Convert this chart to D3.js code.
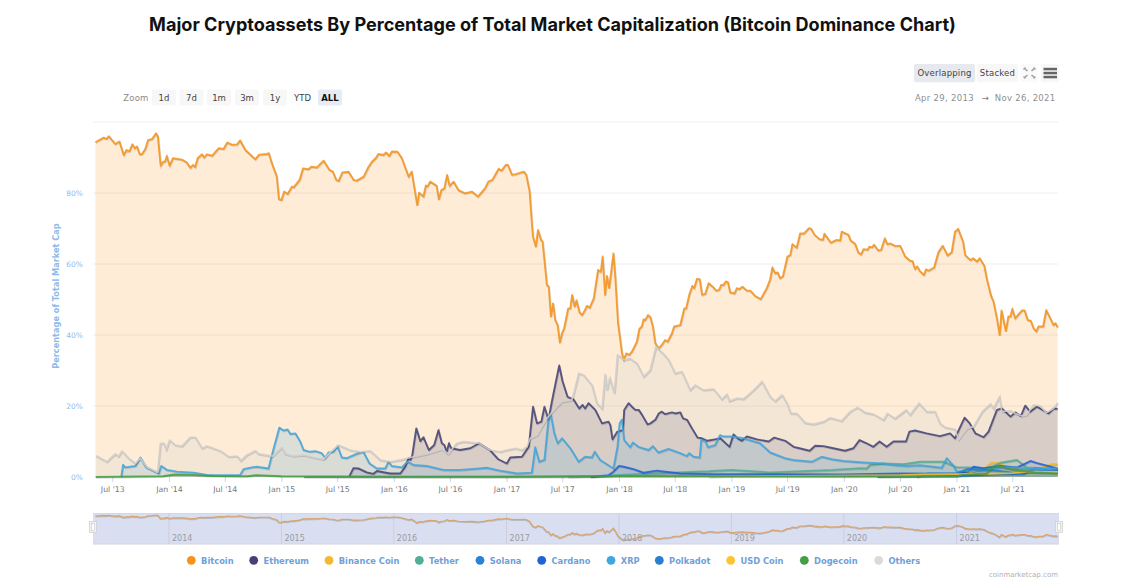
<!DOCTYPE html>
<html><head><meta charset="utf-8">
<script src="https://cdn.jsdelivr.net/npm/d3@7"></script>
<style>html,body{margin:0;padding:0;background:#fff;overflow:hidden}svg{display:block}text{font-family:"DejaVu Sans",sans-serif}</style>
</head><body><svg id="c" width="1124" height="586"></svg>
<script>
const bitcoin=[[2013.346,94.3],[2013.42,95.6],[2013.444,95.2],[2013.465,96],[2013.495,94.9],[2013.524,93.8],[2013.56,94.5],[2013.598,90.7],[2013.622,92.1],[2013.652,91.8],[2013.675,93.7],[2013.696,92.6],[2013.717,93.1],[2013.74,90.9],[2013.761,90.9],[2013.791,92.4],[2013.815,94.9],[2013.85,95.2],[2013.886,96.8],[2013.904,95.9],[2013.927,87.7],[2013.948,88.8],[2013.966,88.8],[2013.983,90.4],[2014.007,87.7],[2014.037,89.8],[2014.117,89.4],[2014.161,88.6],[2014.191,87.1],[2014.215,87.9],[2014.235,87.3],[2014.256,89.8],[2014.295,90.9],[2014.315,90],[2014.339,90.9],[2014.384,90.5],[2014.443,92.6],[2014.487,92.4],[2014.52,94.2],[2014.561,93.6],[2014.606,93.7],[2014.635,94.8],[2014.68,92.1],[2014.769,89.5],[2014.804,90.8],[2014.872,91],[2014.89,91.2],[2014.917,88.4],[2014.961,84.6],[2014.979,78.3],[2015,78],[2015.026,80.4],[2015.056,79.7],[2015.095,81.8],[2015.11,81.6],[2015.163,83.7],[2015.192,86.9],[2015.243,86.7],[2015.266,87.4],[2015.317,87.2],[2015.376,89.1],[2015.43,86.5],[2015.459,86],[2015.489,83.7],[2015.51,83.4],[2015.545,85.8],[2015.598,86],[2015.643,83.7],[2015.672,83.5],[2015.732,84.6],[2015.77,87.1],[2015.806,88.8],[2015.841,89.8],[2015.865,91],[2015.909,90.7],[2015.933,91.4],[2015.96,90.4],[2015.984,91.7],[2016.034,91.6],[2016.072,89.8],[2016.132,84.6],[2016.161,86],[2016.209,76.6],[2016.226,80.1],[2016.265,79],[2016.286,82.1],[2016.3,81.8],[2016.324,83.2],[2016.383,82],[2016.401,78.2],[2016.422,80.8],[2016.452,81.3],[2016.475,85.1],[2016.496,82],[2016.532,83.2],[2016.576,80.8],[2016.635,79.9],[2016.695,80.4],[2016.748,79],[2016.813,81.3],[2016.843,83.2],[2016.878,83.7],[2016.932,86.8],[2016.961,86.3],[2016.997,87.9],[2017.012,87.9],[2017.05,85.1],[2017.08,85.3],[2017.154,86],[2017.178,85.1],[2017.207,80.4],[2017.228,70.5],[2017.237,67.7],[2017.263,64.9],[2017.281,69.6],[2017.308,66.8],[2017.323,66.3],[2017.361,54.1],[2017.376,53.6],[2017.397,45.2],[2017.414,48.9],[2017.435,44.2],[2017.456,42.8],[2017.474,37.9],[2017.494,40.5],[2017.515,41.9],[2017.548,47.5],[2017.568,47.5],[2017.586,51.3],[2017.607,48],[2017.622,49.7],[2017.651,46.4],[2017.672,45.6],[2017.693,46.6],[2017.717,48.2],[2017.74,47.7],[2017.776,50.3],[2017.814,58.3],[2017.841,57.8],[2017.856,62.1],[2017.877,51.3],[2017.894,56.6],[2017.915,53.2],[2017.951,63],[2017.968,56.4],[2017.992,43.3],[2018.028,34.8],[2018.043,33],[2018.066,34.8],[2018.093,34.4],[2018.117,35.3],[2018.146,37.2],[2018.161,38.1],[2018.182,41.7],[2018.205,42.4],[2018.22,44.4],[2018.235,44.2],[2018.259,45.6],[2018.28,45],[2018.303,42.4],[2018.324,37.7],[2018.354,36.2],[2018.383,37.2],[2018.413,38.6],[2018.434,38.1],[2018.472,40.5],[2018.493,42.4],[2018.546,42.8],[2018.582,47.5],[2018.6,47.5],[2018.626,51.3],[2018.653,53.8],[2018.671,53.2],[2018.694,55.8],[2018.718,55.7],[2018.742,51.3],[2018.768,51.6],[2018.798,54.6],[2018.834,53.6],[2018.866,52.5],[2018.893,52.7],[2018.911,54.1],[2018.93,54.1],[2018.955,55.1],[2018.97,54.8],[2018.991,52],[2019.03,51.7],[2019.05,53.2],[2019.07,52.9],[2019.1,53.6],[2019.139,52.5],[2019.168,52.5],[2019.213,51],[2019.263,50.1],[2019.317,53.2],[2019.346,55.7],[2019.367,59],[2019.391,57.4],[2019.412,57.6],[2019.435,56],[2019.459,56.5],[2019.5,62.1],[2019.524,62.5],[2019.545,65.6],[2019.583,64.6],[2019.613,68.6],[2019.648,68.6],[2019.693,70.1],[2019.71,69.9],[2019.74,68.2],[2019.785,67],[2019.814,66.8],[2019.829,68.5],[2019.885,66],[2019.939,66.8],[2019.968,66.6],[2019.983,69.1],[2020.042,68.2],[2020.063,66.6],[2020.102,65.6],[2020.131,63.2],[2020.155,62.7],[2020.176,64.2],[2020.211,64],[2020.229,64.9],[2020.25,64.7],[2020.271,65.4],[2020.309,63.8],[2020.333,64],[2020.365,67.2],[2020.389,65.6],[2020.413,65.8],[2020.457,65.1],[2020.502,65.1],[2020.546,62.1],[2020.591,60.9],[2020.612,60.8],[2020.635,58.6],[2020.653,59.3],[2020.679,58],[2020.715,56.9],[2020.733,58.5],[2020.754,58.1],[2020.804,59],[2020.842,63.3],[2020.881,65.1],[2020.925,62.4],[2020.961,63.3],[2020.991,69.1],[2021.014,69.9],[2021.059,66.3],[2021.079,62.5],[2021.124,61.1],[2021.148,61.6],[2021.183,60.7],[2021.207,61.6],[2021.248,59.5],[2021.272,55.5],[2021.308,51],[2021.331,49.4],[2021.361,44.7],[2021.385,40],[2021.402,46.9],[2021.441,41.1],[2021.462,45.2],[2021.48,45.2],[2021.497,47.3],[2021.521,44.7],[2021.583,46.9],[2021.607,46.9],[2021.634,44.2],[2021.663,44],[2021.687,41.9],[2021.711,41],[2021.731,42.4],[2021.77,42.4],[2021.8,47],[2021.865,42.8],[2021.882,43.3],[2021.9,42.2]];
const ethereum=[[2015.604,0.1],[2015.643,2.5],[2015.687,2.4],[2015.761,1.3],[2015.82,0.9],[2015.85,1.7],[2015.969,1],[2016.058,1],[2016.102,2.9],[2016.132,5.3],[2016.15,4.8],[2016.167,6.2],[2016.2,13.7],[2016.236,10.1],[2016.265,11.2],[2016.315,7.6],[2016.36,9],[2016.398,13.2],[2016.428,9.5],[2016.45,9],[2016.472,7.1],[2016.493,9.5],[2016.511,8.1],[2016.591,7.6],[2016.68,8.1],[2016.76,9.5],[2016.857,7.6],[2016.931,5],[2017.005,3.8],[2017.035,5.5],[2017.138,5.7],[2017.198,8.5],[2017.236,19.8],[2017.272,15.1],[2017.31,15.6],[2017.337,19.8],[2017.375,16.1],[2017.405,21.2],[2017.435,25.9],[2017.47,31.4],[2017.5,26.9],[2017.544,22.6],[2017.597,21.9],[2017.648,19.3],[2017.678,20.3],[2017.701,19.3],[2017.731,20.8],[2017.79,18.9],[2017.85,15.1],[2017.909,15.6],[2017.924,14.6],[2017.944,10.6],[2017.989,12.8],[2018.037,13.2],[2018.049,18.9],[2018.087,20.8],[2018.117,19.8],[2018.146,18.9],[2018.176,18.9],[2018.206,17.5],[2018.256,14.8],[2018.28,15.1],[2018.324,16.1],[2018.354,17.9],[2018.383,18.4],[2018.413,17.7],[2018.472,18.2],[2018.502,17.9],[2018.546,18.2],[2018.57,16.5],[2018.606,16.1],[2018.65,13.7],[2018.7,11.1],[2018.739,10.9],[2018.789,10.2],[2018.857,10.6],[2018.902,10.9],[2018.985,8.5],[2019.02,12],[2019.065,10.7],[2019.095,10.2],[2019.139,11.4],[2019.228,10.6],[2019.332,10],[2019.382,11.1],[2019.48,10.2],[2019.554,8.5],[2019.607,8.1],[2019.696,7.4],[2019.746,8.8],[2019.82,8.7],[2019.909,8.1],[2020.013,7.4],[2020.087,8.1],[2020.14,10.4],[2020.205,9.5],[2020.265,8.5],[2020.318,10],[2020.383,8.5],[2020.442,10],[2020.555,10],[2020.585,12.8],[2020.635,13.1],[2020.739,12.3],[2020.857,11.5],[2020.946,12.3],[2020.99,10.9],[2021.02,13.2],[2021.073,16.7],[2021.118,15.1],[2021.168,12.3],[2021.242,11.2],[2021.287,12.8],[2021.361,18.9],[2021.405,19.3],[2021.48,17],[2021.524,18.2],[2021.574,17.2],[2021.613,20.1],[2021.657,18.4],[2021.716,19.8],[2021.82,17.9],[2021.865,19.3],[2021.9,19.2]];
const binanceCoin=[[2017.55,0],[2018,0.2],[2018.6,0.3],[2019,0.5],[2019.3,1],[2020,0.8],[2021,0.9],[2021.1,1.2],[2021.25,2.5],[2021.31,4],[2021.37,4],[2021.42,3.2],[2021.5,2.3],[2021.75,2.5],[2021.85,3.7],[2021.9,3.6]];
const tether=[[2015.2,0],[2017.5,0.1],[2017.9,0.3],[2018,0.6],[2018.3,1],[2018.8,1.6],[2019,2],[2019.346,1.3],[2019.9,2],[2020.15,2.5],[2020.205,2.4],[2020.235,3.4],[2020.354,3.8],[2020.53,3.6],[2020.68,4.3],[2020.888,4.3],[2021.005,2.7],[2021.12,2.7],[2021.272,2.2],[2021.39,4],[2021.539,4.8],[2021.627,2.7],[2021.9,2.2]];
const solana=[[2020.3,0],[2021,0.2],[2021.4,0.8],[2021.6,0.8],[2021.7,2.5],[2021.9,2]];
const cardano=[[2017.75,0],[2017.909,0.5],[2017.953,1.5],[2018,3.1],[2018.042,2.9],[2018.13,2.2],[2018.22,1.2],[2018.339,1.8],[2018.546,1],[2018.84,0.8],[2019.35,0.8],[2020,0.7],[2020.5,1],[2020.9,0.9],[2021,1],[2021.1,1.5],[2021.153,2.9],[2021.24,2.5],[2021.39,3.1],[2021.54,2.7],[2021.658,4.5],[2021.72,3.9],[2021.9,2.4]];
const xrp=[[2013.578,0],[2013.592,3.4],[2013.613,2.7],[2013.702,3.1],[2013.746,5.5],[2013.8,2.7],[2013.91,1],[2013.933,3.1],[2013.983,2],[2014.072,1.5],[2014.22,1.2],[2014.339,0.6],[2014.487,0.5],[2014.635,0.6],[2014.665,2.2],[2014.739,2.7],[2014.783,2.9],[2014.887,2.4],[2014.926,7.1],[2014.982,13.9],[2015.02,13.1],[2015.056,13.4],[2015.08,12.1],[2015.124,12.3],[2015.169,10],[2015.198,7.6],[2015.257,7.1],[2015.302,7.3],[2015.361,6.7],[2015.391,5.4],[2015.42,6.9],[2015.465,7.1],[2015.5,8.7],[2015.539,5.5],[2015.583,5.3],[2015.687,6.7],[2015.731,7.1],[2015.785,3.8],[2015.85,2.4],[2015.924,2.4],[2015.954,4.3],[2015.983,3.1],[2016.072,2.7],[2016.123,4.3],[2016.176,3.4],[2016.294,3.1],[2016.443,2],[2016.591,2],[2016.76,2.4],[2016.827,2.6],[2016.946,1.8],[2017.094,1],[2017.227,1.2],[2017.257,8.4],[2017.293,4.3],[2017.337,4.8],[2017.375,16.1],[2017.396,17.5],[2017.426,12.3],[2017.455,9.5],[2017.494,10.9],[2017.568,8.1],[2017.642,4.3],[2017.701,5.7],[2017.76,5.5],[2017.784,7.1],[2017.835,4.8],[2017.953,2.4],[2017.989,8.5],[2018.007,15.1],[2018.027,16.1],[2018.048,10.4],[2018.101,8.4],[2018.125,9.7],[2018.175,8.5],[2018.264,7.6],[2018.303,8.7],[2018.353,6.9],[2018.442,7.9],[2018.546,6.7],[2018.605,5.9],[2018.625,6.7],[2018.664,5.7],[2018.718,5.5],[2018.732,10.4],[2018.768,10.1],[2018.792,8.4],[2018.857,9],[2018.901,11.8],[2018.931,11.4],[2019.005,11.4],[2019.109,10.9],[2019.257,9.5],[2019.346,6.9],[2019.405,6.2],[2019.479,5.3],[2019.553,4.8],[2019.716,4.3],[2019.805,5.7],[2019.894,5],[2019.998,4.5],[2020.176,4.1],[2020.353,3.8],[2020.442,3.4],[2020.561,3.1],[2020.679,3.3],[2020.872,2.6],[2020.916,5.3],[2020.97,3.4],[2021.005,1.5],[2021.153,1.8],[2021.272,2],[2021.39,2.7],[2021.509,2.7],[2021.627,2.4],[2021.776,2.2],[2021.9,2.4]];
const polkadot=[[2020.65,0],[2020.75,1],[2021,1],[2021.1,2.3],[2021.3,2],[2021.5,1.2],[2021.8,1.8],[2021.9,1.4]];
const usdCoin=[[2018.8,0],[2019,0.2],[2020.5,0.5],[2020.7,0.7],[2021,0.8],[2021.3,0.9],[2021.5,1.1],[2021.65,1.5],[2021.9,1.4]];
const dogecoin=[[2013.35,0],[2013.95,0.2],[2014.05,0.7],[2014.2,0.6],[2014.4,0.3],[2014.7,0.2],[2014.78,0.5],[2015,0.2],[2016,0.1],[2017,0.1],[2018,0.3],[2019,0.2],[2020,0.15],[2021,0.2],[2021.05,0.6],[2021.27,1],[2021.33,3],[2021.4,3],[2021.45,2.4],[2021.7,1.3],[2021.9,1]];
const others=[[2013.352,6],[2013.45,4.3],[2013.48,5.3],[2013.524,6.5],[2013.553,5.8],[2013.583,7.3],[2013.643,5.3],[2013.702,3.8],[2013.746,5.3],[2013.806,2.7],[2013.9,1.3],[2013.924,9.5],[2013.954,9.5],[2013.977,7.8],[2014.007,10.4],[2014.057,9],[2014.117,8.7],[2014.191,11.2],[2014.235,11.2],[2014.295,8.1],[2014.339,8.7],[2014.457,7.4],[2014.532,5.7],[2014.606,5.9],[2014.641,4.6],[2014.695,6.2],[2014.769,7.4],[2014.798,6.5],[2014.926,5.9],[2015,8.3],[2015.035,6.5],[2015.109,5.9],[2015.198,6.2],[2015.287,5.5],[2015.376,5],[2015.435,6.9],[2015.509,9],[2015.613,7.6],[2015.702,7.1],[2015.791,7.4],[2015.88,4.8],[2015.969,4.3],[2016.058,4.8],[2016.176,5.7],[2016.294,6.5],[2016.428,7.8],[2016.487,6.5],[2016.561,9.5],[2016.62,10],[2016.76,9.5],[2016.857,7.6],[2016.946,7.1],[2017.005,7.6],[2017.08,8.1],[2017.138,7.6],[2017.183,8.5],[2017.212,10.9],[2017.272,11.8],[2017.316,14.2],[2017.36,16.5],[2017.435,19.3],[2017.494,21.2],[2017.583,21.7],[2017.607,24.5],[2017.642,29.2],[2017.687,28.7],[2017.76,25.9],[2017.805,20.8],[2017.85,19.3],[2017.879,28.9],[2017.894,24.5],[2017.918,27.8],[2017.959,23.6],[2017.989,34.4],[2018.012,33.9],[2018.048,33],[2018.101,33.4],[2018.161,32],[2018.22,28.3],[2018.279,30.1],[2018.33,36.7],[2018.398,34.6],[2018.442,33],[2018.501,29.2],[2018.561,29.7],[2018.635,24.5],[2018.679,25.9],[2018.753,24.5],[2018.842,24.8],[2018.916,21.9],[2018.96,23.3],[2018.981,21.4],[2019.049,22.2],[2019.109,22],[2019.198,24.5],[2019.272,26.9],[2019.346,22.6],[2019.39,21.4],[2019.45,23.1],[2019.494,20.8],[2019.53,17.9],[2019.583,17.9],[2019.657,15.3],[2019.731,14.9],[2019.82,15.6],[2019.879,16.7],[2019.983,15.8],[2020.057,18.4],[2020.122,19.6],[2020.19,18.2],[2020.265,17.7],[2020.354,16.1],[2020.389,17.9],[2020.457,16.5],[2020.555,18.9],[2020.59,17.5],[2020.67,20.8],[2020.739,18.4],[2020.813,18.4],[2020.857,15.1],[2020.902,14],[2020.99,13.4],[2021.02,10.6],[2021.094,13.7],[2021.153,14.2],[2021.228,18.4],[2021.302,20.6],[2021.331,19.3],[2021.382,22.6],[2021.405,18.4],[2021.48,18.7],[2021.524,17.9],[2021.583,17.2],[2021.627,17.5],[2021.687,20.3],[2021.746,20],[2021.799,18.1],[2021.865,19.3],[2021.9,20.9]];

const seriesNames=["Bitcoin","Ethereum","Binance Coin","Tether","Solana","Cardano","XRP","Polkadot","USD Coin","Dogecoin","Others"];
const seriesData=[bitcoin,ethereum,binanceCoin,tether,solana,cardano,xrp,polkadot,usdCoin,dogecoin,others];
const seriesColors=["#F7931A","#434378","#F3BA2F","#50AF95","#2A82D6","#2162D6","#3FA7E0","#2A7FD0","#FCC42F","#459D45","#D0D0D0"];
const legendColors=["#F7931A","#473F76","#F3BA2F","#50AF95","#2A82D6","#2162D6","#3FA7E0","#2A7FD0","#FCC42F","#459D45","#DADADA"];
const legendX=[191.3,253.7,329,419.3,480,541.7,611,659.3,730.7,804.3,878.7];
const yTicks=[0,20,40,60,80];
const zoomLabels=["1d","7d","1m","3m","1y","YTD","ALL"];
const zoomEdges=[152,179.5,207,235,263,290.5,318];
const navYears=[2014,2015,2016,2017,2018,2019,2020,2021];

const toDate=y=>{const yr=Math.floor(y);return new Date(yr,0,1+(y-yr)*365)};
const svg=d3.select("#c");
const x=d3.scaleTime().domain([new Date(2013,6,1),new Date(2021,6,1)]).range([112.3,1012.3]);
const y=d3.scaleLinear().domain([0,100]).range([477,122]);
const sans='"DejaVu Sans",sans-serif';

svg.append("text").attr("x",552.5).attr("y",31).attr("text-anchor","middle").attr("fill","#111")
  .style("font-family","Inter,sans-serif").style("font-weight",700).style("font-size","18.07px").text("Major Cryptoassets By Percentage of Total Market Capitalization (Bitcoin Dominance Chart)");

// toolbar
const btn=(x0,y0,w,h,fill)=>svg.append("rect").attr("x",x0).attr("y",y0).attr("width",w).attr("height",h).attr("rx",2).attr("fill",fill);
const lab=(tx,ty,s,col,anchor,size,weight,ls)=>svg.append("text").attr("x",tx).attr("y",ty).attr("text-anchor",anchor||"start").attr("fill",col).style("font-size",(size||8.5)+"px").style("font-weight",weight||400).style("letter-spacing",(ls||0)+"px").text(s);
lab(123.3,101,"Zoom","#8a8a8a","start",8.5,400,.2);
zoomLabels.forEach((s,i)=>{
  const active=s==="ALL";
  btn(zoomEdges[i],89.5,24,16,active?"#e6ebf5":(s==="YTD"?"#fdfdfd":"#f7f7f7"));
  lab(zoomEdges[i]+12,101,s,active?"#111":"#444","middle",8.5,active?700:400);
});
btn(914,64,61,18.3,"#e6e9ed"); lab(944.5,76,"Overlapping","#444","middle",8.5,400,.2);
btn(977,64,41,18.3,"#f7f7f7"); lab(997.5,76,"Stacked","#444","middle",8.5,400,.2);
btn(1021,64,17,18.3,"#fafafa"); btn(1041,64,18,18.3,"#f7f7f7");
[[1024,68,1,1],[1035,68,-1,1],[1024,78,1,-1],[1035,78,-1,-1]].forEach(([a,b,c,d])=>{
  svg.append("path").attr("d",`M${a},${b}l${c*3.5},${d*3}`).attr("stroke","#999").attr("stroke-width",1.4);
  svg.append("path").attr("d",`M${a},${b}l${c*2},0M${a},${b}l0,${d*2}`).attr("stroke","#aaa").attr("stroke-width",1);
});
[69,73,77].forEach(v=>svg.append("rect").attr("x",1043.5).attr("y",v-1.2).attr("width",13.5).attr("height",2.5).attr("fill","#666"));
lab(915,101,"Apr 29, 2013","#8f8f8f","start",8.5,400,.3);
lab(985,101,"→","#777","middle",8.5);
lab(1055.5,101,"Nov 26, 2021","#8f8f8f","end",8.5,400,.3);

// grid & axes
const gy=svg.append("g").attr("transform","translate(93,0)").call(d3.axisLeft(y).tickValues(yTicks).tickSize(0).tickPadding(10).tickFormat(d=>d+"%"));
gy.select(".domain").remove();
gy.selectAll("text").attr("fill","#8fbdec").style("font-size","7.5px").style("font-family",sans);
svg.append("g").selectAll("line").data(yTicks.filter(d=>d>0).concat([100])).join("line").attr("x1",93).attr("x2",1058).attr("y1",d=>y(d)).attr("y2",d=>y(d)).attr("stroke","#eeeeee");
svg.append("text").attr("transform","translate(59,296) rotate(-90)").attr("text-anchor","middle").attr("fill","#8abbea").style("font-size","8.2px").style("font-weight",700).text("Percentage of Total Market Cap");
const xTicks=d3.timeMonth.range(new Date(2013,6,1),new Date(2021,7,1),6);
const gx=svg.append("g").attr("transform","translate(0,477)").call(d3.axisBottom(x).tickValues(xTicks).tickSize(5).tickPadding(4).tickFormat(d3.timeFormat("%b '%y")));
gx.select(".domain").remove();
gx.selectAll("line").attr("stroke","#ccd6eb");
gx.selectAll("text").attr("fill","#777").style("font-size","7.8px").style("font-family",sans);

// series
const area=d3.area().x(d=>x(toDate(d[0]))).y0(y(0)).y1(d=>y(d[1]));
const line=d3.line().x(d=>x(toDate(d[0]))).y(d=>y(d[1]));
const plot=svg.append("g");
seriesData.forEach((d,i)=>{
  plot.append("path").datum(d).attr("d",area).attr("fill",seriesColors[i]).attr("fill-opacity",i===10?0.22:0.18).attr("stroke","none");
});
seriesData.forEach((d,i)=>{
  plot.append("path").datum(d).attr("d",line).attr("fill","none").attr("stroke","#000").attr("stroke-opacity",0.14).attr("stroke-width",2).attr("transform","translate(0.6,0.8)");
  plot.append("path").datum(d).attr("d",line).attr("fill","none").attr("stroke",seriesColors[i]).attr("stroke-opacity",0.86).attr("stroke-width",i===10?1.7:1.9).attr("stroke-linejoin","round");
});

// navigator
const nY=d3.scaleLinear().domain([33,95]).range([540,515.7]);
svg.append("rect").attr("x",93).attr("y",513).attr("width",966).attr("height",31).attr("fill","#d9dff0");
svg.append("line").attr("x1",93).attr("x2",1059).attr("y1",513.5).attr("y2",513.5).attr("stroke","#d8d8d8");
svg.append("line").attr("x1",93).attr("x2",1059).attr("y1",544).attr("y2",544).attr("stroke","#cfd4df");
navYears.forEach(v=>{
  const px=x(new Date(v,0,1));
  svg.append("line").attr("x1",px).attr("x2",px).attr("y1",513).attr("y2",544).attr("stroke","#c9cfe0");
});
svg.append("g").selectAll("text").data(navYears).join("text").attr("x",v=>x(new Date(v,0,1))+3).attr("y",540.5).attr("fill","#9a9aa5").style("font-size","8px").text(v=>v);
const nLine=d3.line().x(d=>x(toDate(d[0]))).y(d=>nY(d[1]));
svg.append("path").datum(bitcoin).attr("d",nLine).attr("fill","none").attr("stroke","#9a9a9a").attr("stroke-opacity",.5).attr("stroke-width",1.6).attr("transform","translate(0,.7)");
svg.append("path").datum(bitcoin).attr("d",nLine).attr("fill","none").attr("stroke","#d9a56e").attr("stroke-width",1.2);
[93,1059].forEach(px=>{
  svg.append("rect").attr("x",px-3.5).attr("y",521.5).attr("width",7).attr("height",11).attr("fill","#f2f2f2").attr("stroke","#ccc").attr("stroke-width",.7);
  svg.append("rect").attr("x",px-1.5).attr("y",523.5).attr("width",3).attr("height",7).attr("fill","#fff").attr("stroke","#bbb").attr("stroke-width",.5);
});

// legend
seriesNames.forEach((s,i)=>{
  svg.append("circle").attr("cx",legendX[i]).attr("cy",560.3).attr("r",4.4).attr("fill",legendColors[i]);
  lab(legendX[i]+9.8,563.5,s,"#6f9fd8","start",8.3,700);
});
lab(1058,577,"coinmarketcap.com","#b0b0b0","end",7);
</script></body></html>
